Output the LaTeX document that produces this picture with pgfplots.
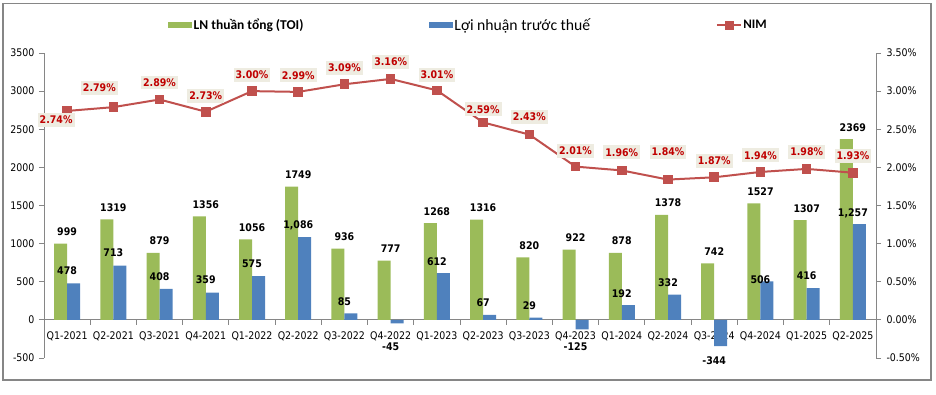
\documentclass[border=0pt]{standalone}
\usepackage{pgfplots}
\pgfplotsset{compat=1.18}
\usepackage{pgfplotstable}
\usepackage{fontspec}
\setmainfont{DejaVu Sans}[FakeStretch=0.9]
\newfontfamily\legfont{Carlito}
\definecolor{cgreen}{HTML}{9BBB59}
\definecolor{cblue}{HTML}{4F81BD}
\definecolor{cred}{HTML}{C0504D}
\definecolor{ctext}{HTML}{C00000}
\definecolor{cbg}{HTML}{EEECE1}
\definecolor{cax}{HTML}{868686}

\pgfplotstableread{
x toi gdy lnt lntlab bdy
0 999 12 478 478 12.5
1 1319 12 713 713 12.5
2 879 12 408 408 12.5
3 1356 12 359 359 12.5
4 1056 12 575 575 12.5
5 1749 12 1086 {1,086} 12
6 936 12 85 85 12
7 777 12 -45 -45 -23
8 1268 12 612 612 12
9 1316 12 67 67 12
10 820 12 29 29 12
11 922 12 -125 -125 -17.5
12 878 12 192 192 12
13 1378 12 332 332 12
14 742 12 -344 -344 -15
15 1527 12 506 506 2
16 1307 12 416 416 12
17 2369 12 1257 {1,257} 11
}\bardata

\pgfplotstableread{
x nim dx dy
0 2.74 -11 -9
1 2.79 -14 19
2 2.89 0 17
3 2.73 0 16
4 3.00 0 16
5 2.99 0 16.6
6 3.09 0 16.7
7 3.16 0 17
8 3.01 0 15.7
9 2.59 0 13
10 2.43 0 18
11 2.01 0 16
12 1.96 0 18
13 1.84 0 27.6
14 1.87 0 16.6
15 1.94 0 16.7
16 1.98 0 17.3
17 1.93 0 16.7
}\nimdata

\begin{document}
\begin{tikzpicture}
\begin{axis}[
  name=main,
  width=832pt, height=305pt, scale only axis,
  xmin=-0.5, xmax=17.5, ymin=-500, ymax=3500,
  axis y line*=left, axis x line*=middle,
  axis line style={-, draw=cax, line width=0.8pt},
  every inner x axis line/.append style={-},
  every outer y axis line/.append style={-},
  ytick={-500,0,500,1000,1500,2000,2500,3000,3500},
  /pgf/number format/assume math mode=true,
  /pgf/number format/set thousands separator={},
  yticklabel style={font=\fontsize{10.5}{12}\selectfont, xshift=-1pt},
  xtick={0,...,17},
  xticklabels={Q1-2021,Q2-2021,Q3-2021,Q4-2021,Q1-2022,Q2-2022,Q3-2022,Q4-2022,Q1-2023,Q2-2023,Q3-2023,Q4-2023,Q1-2024,Q2-2024,Q3-2024,Q4-2024,Q1-2025,Q2-2025},
  xticklabel style={font=\fontsize{10.5}{12}\selectfont, yshift=-3.5pt},
  minor xtick={-0.5,0.5,...,17.5},
  major x tick style={draw=none},
  tick align=outside,
  tick style={draw=cax, line width=0.8pt},
  major tick length=5pt, minor tick length=5pt,
  clip=false,
  legend columns=3,
  legend style={at={(0.149,1.092)}, anchor=west, draw=none, fill=none,
    inner sep=0pt, font=\legfont,
    /tikz/every even column/.append style={column sep=124pt},
    nodes={inner xsep=1.5pt}},
]
\addplot[ybar, bar width=13pt, bar shift=-6.5pt, fill=cgreen, draw=none,
  point meta=explicit,
  visualization depends on={\thisrow{gdy} \as \gdy},
  nodes near coords={\pgfmathprintnumber[fixed,precision=0,set thousands separator={}]{\pgfplotspointmeta}},
  every node near coord/.append style={anchor=center, yshift=\gdy pt,
     font=\bfseries\fontsize{10.5}{12}\selectfont, text=black},
  legend image code/.code={\fill[cgreen] (0pt,-3pt) rectangle (24pt,3pt);}]
  table[x=x, y=toi, meta=toi] {\bardata};
\addlegendentry{\bfseries\fontsize{13.5}{15}\selectfont LN thuần tổng (TOI)}
\addplot[ybar, bar width=13pt, bar shift=6.5pt, fill=cblue, draw=none,
  point meta=explicit symbolic,
  visualization depends on={\thisrow{bdy} \as \bdy},
  nodes near coords,
  every node near coord/.append style={anchor=center, yshift=\bdy pt,
     font=\bfseries\fontsize{10.5}{12}\selectfont, text=black},
  legend image code/.code={\fill[cblue] (0pt,-3pt) rectangle (24pt,3pt);}]
  table[x=x, y=lnt, meta=lntlab] {\bardata};
\addlegendentry{\fontsize{15.7}{17}\selectfont Lợi nhuận trước thuế}
\addlegendimage{legend image code/.code={\draw[cred, line width=2pt] (0pt,0pt)--(24pt,0pt); \fill[cred] (8pt,-4pt) rectangle (16pt,4pt);}}
\addlegendentry{\bfseries\fontsize{13}{15}\selectfont NIM}
\end{axis}

\begin{axis}[
  width=832pt, height=305pt, scale only axis,
  xmin=-0.5, xmax=17.5, ymin=-0.5, ymax=3.5,
  axis y line*=right, axis x line=none,
  axis line style={-, draw=cax, line width=0.8pt},
  every outer y axis line/.append style={-},
  ytick={-0.5,0,0.5,1,1.5,2,2.5,3,3.5},
  yticklabel={\pgfmathprintnumber[fixed,fixed zerofill,precision=2]{\tick}\%},
  /pgf/number format/assume math mode=true,
  yticklabel style={font=\fontsize{10.5}{12}\selectfont, xshift=2pt},
  tick align=outside,
  tick style={draw=cax, line width=0.8pt},
  major tick length=5pt,
  clip=false,
]
\addplot[cred, line width=2pt, mark=square*, mark size=3.8pt, mark options={solid, fill=cred},
  point meta=explicit,
  visualization depends on={\thisrow{dx} \as \ndx},
  visualization depends on={\thisrow{dy} \as \ndy},
  nodes near coords={\pgfmathprintnumber[fixed,fixed zerofill,precision=2]{\pgfplotspointmeta}\%},
  every node near coord/.append style={anchor=center, xshift=\ndx pt, yshift=\ndy pt,
     font=\bfseries\fontsize{10.5}{12}\selectfont, text=ctext, fill=cbg,
     inner xsep=2pt, inner ysep=3pt}]
  table[x=x, y=nim, meta=nim] {\nimdata};
\end{axis}

\draw[cax, line width=1.2pt] ([xshift=-41pt,yshift=-22pt]main.south west) rectangle ([xshift=55pt,yshift=49.5pt]main.north east);
\path ([xshift=-44pt,yshift=-36pt]main.south west) rectangle ([xshift=60pt,yshift=53pt]main.north east);
\end{tikzpicture}
\end{document}
